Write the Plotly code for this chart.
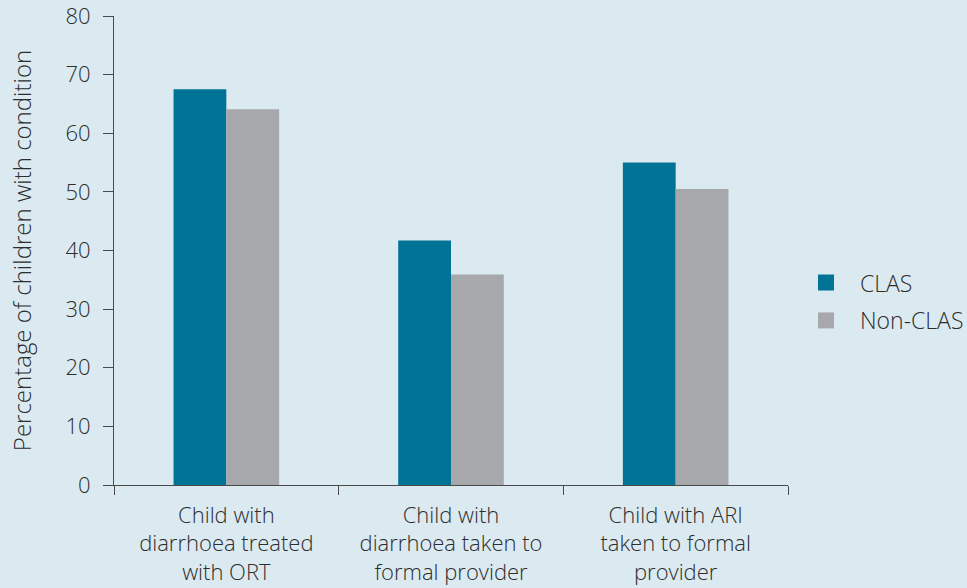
import plotly.graph_objects as go

categories = ["Child with<br>diarrhoea treated<br>with ORT",
              "Child with<br>diarrhoea taken to<br>formal provider",
              "Child with ARI<br>taken to formal<br>provider"]
series_names = ["CLAS", "Non-CLAS"]
clas = [67.5, 41.7, 55.0]
non_clas = [64.1, 35.9, 50.5]
y_ticks = [0, 10, 20, 30, 40, 50, 60, 70, 80]

BG = "#dbeaf1"
TEXT = "#2d2d2d"
AXIS = "#4a4a4a"
COLORS = ["#007396", "#a7a8ab"]
FONT = "Open Sans, Noto Sans, sans-serif"

fig = go.Figure()
for name, vals, col in zip(series_names, [clas, non_clas], COLORS):
    fig.add_trace(go.Bar(x=categories, y=vals, name=name, marker_color=col,
                         marker_line_width=0, showlegend=False))
# legend-only entries (larger square swatches)
for i, (name, col) in enumerate(zip(series_names, COLORS)):
    fig.add_trace(go.Scatter(x=[None], y=[None], mode="markers", name=name,
                             marker=dict(symbol="square", size=16, color=col),
                             legendgroup=f"g{i}"))

fig.update_layout(
    width=967, height=588,
    paper_bgcolor=BG, plot_bgcolor=BG,
    margin=dict(l=114, r=179, t=16, b=103, autoexpand=False),
    barmode="group", bargap=0.53, bargroupgap=0,
    font=dict(family=FONT, color=TEXT, size=22, weight=300),
    legend=dict(xref="container", yref="container", x=0.819, y=0.556,
                xanchor="left", yanchor="top", itemsizing="trace",
                bgcolor="rgba(0,0,0,0)", font=dict(size=23, color=TEXT, weight=300),
                tracegroupgap=5, itemwidth=58),
    showlegend=True,
)
fig.update_xaxes(
    automargin=False,
    showline=True, linecolor=AXIS, linewidth=1.2,
    ticks="outside", tickson="boundaries", ticklen=9, tickcolor=AXIS,
    tickwidth=1.2, showgrid=False, tickfont=dict(size=22, color=TEXT, weight=300),
    ticklabelstandoff=10,
)
fig.update_yaxes(
    automargin=False,
    range=[0, 80], tickvals=y_ticks, showline=True, linecolor=AXIS, linewidth=1.2,
    ticks="outside", ticklen=10, tickcolor=AXIS, tickwidth=1.2,
    showgrid=False, zeroline=False, tickfont=dict(size=22, color=TEXT, weight=300),
    ticklabelstandoff=8, ticklabeloverflow="allow",
    title=dict(text="Percentage of children with condition",
               font=dict(size=24, color=TEXT, weight=300), standoff=26),
)

fig.write_html("out.html")
